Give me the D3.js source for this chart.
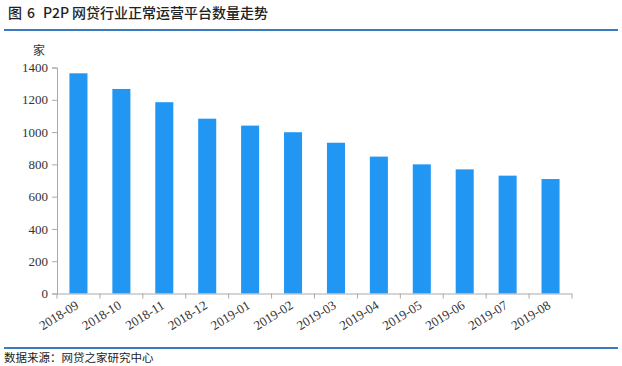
<!DOCTYPE html>
<html><head><meta charset="utf-8">
<script src="https://cdn.jsdelivr.net/npm/d3@7"></script>
<style>body{margin:0;background:#fff}svg{display:block}</style>
</head><body>
<svg id="c" width="622" height="366"></svg>
<script>
const categories = ["2018-09","2018-10","2018-11","2018-12","2019-01","2019-02","2019-03","2019-04","2019-05","2019-06","2019-07","2019-08"];
const values = [1364,1267,1185,1083,1040,999,934,848,800,769,730,709];
const yTicks = [0,200,400,600,800,1000,1200,1400];
const titleParts = ["图", "6", "P2P", "网贷行业正常运营平台数量走势"];
const unit = "家";
const source = "数据来源：网贷之家研究中心";

(function () {
const SERIF = "'Liberation Serif', 'Times New Roman', 'DejaVu Serif', serif";
const svg = d3.select("#c");
const mLeft = 57, mRight = 572, mTop = 67.5, mBottom = 293.5;
const x = d3.scaleBand().domain(categories).range([mLeft, mRight]).paddingInner(0.58).paddingOuter(0.29);
const y = d3.scaleLinear().domain([0, 1400]).range([mBottom, mTop]);

const titleX = [8, 27, 43, 72];
svg.selectAll("text.title").data(titleParts).join("text").attr("class", "title")
  .attr("x", (d, i) => titleX[i]).attr("y", 18).style("font-family", "'Noto Sans CJK SC'").style("font-size", "14px")
  .style("font-weight", 500).attr("fill", "#222").text(d => d);
svg.append("line").attr("x1", 4).attr("x2", 618).attr("y1", 30).attr("y2", 30).attr("stroke", "#3a7bc0").attr("stroke-width", 2);
svg.append("line").attr("x1", 4).attr("x2", 618).attr("y1", 348).attr("y2", 348).attr("stroke", "#3a7bc0").attr("stroke-width", 2);
svg.append("text").attr("x", 4).attr("y", 362).style("font-family", "'Noto Sans CJK SC'").style("font-size", "11.5px")
  .attr("fill", "#222").text(source);

svg.append("text").attr("x", 39).attr("y", 55).attr("text-anchor", "middle").style("font-family", "'Noto Sans CJK SC'")
  .style("font-size", "12px").attr("fill", "#333").text(unit);

svg.selectAll("rect.bar").data(values).join("rect").attr("class", "bar")
  .attr("x", (d, i) => x(categories[i])).attr("width", x.bandwidth())
  .attr("y", d => y(d)).attr("height", d => y(0) - y(d)).attr("fill", "#2196f3");

const yAxis = svg.append("g").attr("transform", `translate(${mLeft},0)`)
  .call(d3.axisLeft(y).tickValues(yTicks).tickSize(5).tickPadding(4).tickFormat(d3.format("d")));
yAxis.attr("font-family", null).attr("font-size", null);
yAxis.select(".domain").attr("stroke", "#aaa");
yAxis.selectAll(".tick line").attr("stroke", "#aaa");
yAxis.selectAll("text").style("font-family", SERIF).style("font-size", "13px").attr("fill", "#333");

const step = x.step();
const boundaries = d3.range(categories.length + 1).map(i => mLeft + i * step);
const xg = svg.append("g");
xg.append("line").attr("x1", mLeft).attr("x2", mRight).attr("y1", mBottom + 0.5).attr("y2", mBottom + 0.5).attr("stroke", "#aaa");
xg.selectAll("line.t").data(boundaries).join("line").attr("class", "t")
  .attr("x1", d => d).attr("x2", d => d).attr("y1", mBottom).attr("y2", mBottom + 5).attr("stroke", "#aaa");
xg.selectAll("text").data(categories).join("text")
  .attr("transform", d => `translate(${x(d) + x.bandwidth() / 2 + 1},${mBottom + 14}) rotate(-32)`)
  .attr("text-anchor", "end").style("font-family", SERIF).style("font-size", "13px").attr("fill", "#333")
  .text(d => d);
})();
</script>
</body></html>
